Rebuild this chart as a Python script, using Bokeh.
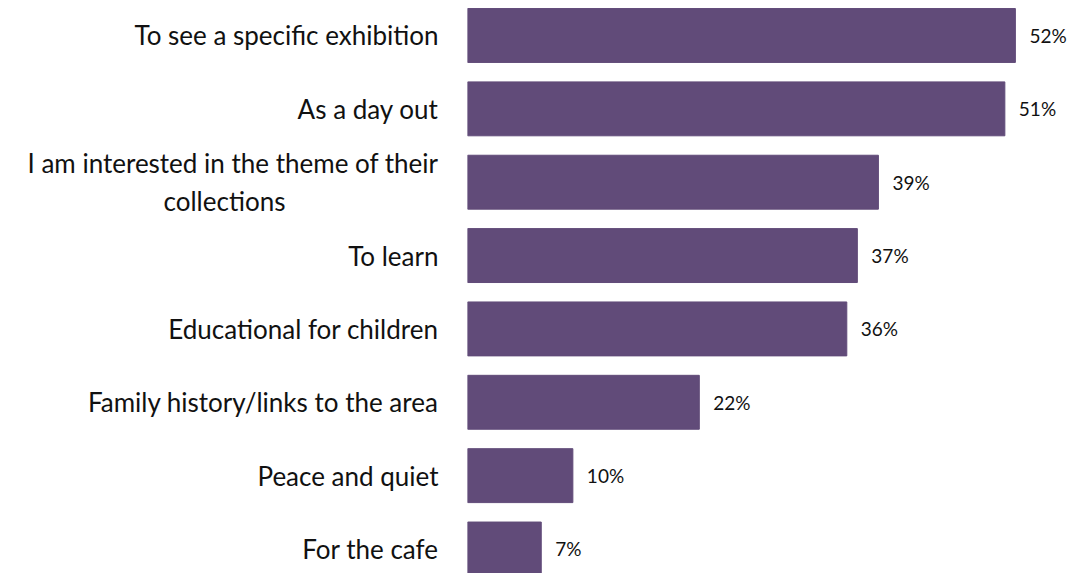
from bokeh.plotting import figure
from bokeh.models import Range1d, FixedTicker, ColumnDataSource
from bokeh.core.properties import value
from bokeh.embed import file_html
from bokeh.resources import INLINE

categories = [
    "To see a specific exhibition",
    "As a day out",
    "I am interested in the theme of their\ncollections" + "\u00a0" * 23,
    "To learn",
    "Educational for children",
    "Family history/links to the area",
    "Peace and quiet",
    "For the cafe",
]
values = [52, 51, 39, 37, 36, 22, 10, 7]
value_labels = ["52%", "51%", "39%", "37%", "36%", "22%", "10%", "7%"]

positions = list(range(len(categories)))
src = ColumnDataSource(dict(y=positions, v=values, lab=value_labels))

p = figure(width=1076, height=573, output_backend="svg", toolbar_location=None,
           x_range=Range1d(0, 57.8), y_range=Range1d(7.334, -0.477),
           min_border_left=467, min_border_right=0, min_border_top=0, min_border_bottom=0)

p.hbar(y="y", right="v", left=0, height=0.735, source=src, color="#614b79")
p.text(x="v", y="y", text="lab", source=src, x_offset=14, text_baseline="middle",
       text_align="left", text_font=value("Lato"), text_font_size="19px", text_color="#111111")

p.xaxis.visible = False
yax = p.yaxis[0]
yax.ticker = FixedTicker(ticks=positions)
yax.major_label_overrides = {i: c for i, c in enumerate(categories)}
yax.axis_line_color = None
yax.major_tick_line_color = None
yax.minor_tick_line_color = None
yax.major_label_text_font = "Lato"
yax.major_label_text_font_size = "26px"
yax.major_label_text_font_style = "normal"
yax.major_label_text_color = "#111111"
yax.major_label_text_line_height = 1.2
yax.major_label_standoff = 23
p.xgrid.visible = False
p.ygrid.visible = False
p.outline_line_color = None

open("out.html", "w").write(file_html(p, INLINE))
